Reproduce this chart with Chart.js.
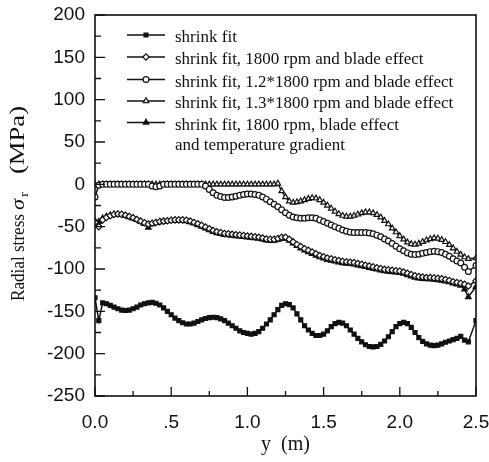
<!DOCTYPE html>
<html>
<head>
<meta charset="utf-8">
<title>Radial stress</title>
<script src="https://cdn.jsdelivr.net/npm/chart.js@4.4.1/dist/chart.umd.min.js"></script>
<style>
  html, body { margin: 0; padding: 0; background: #fff; }
  #wrap { width: 489px; height: 462px; }
</style>
</head>
<body>
<div id="wrap"><canvas id="stressChart" width="489" height="462"></canvas></div>
<script>
// Positions along the shaft, y (m)
const yPositions = [
  0.000, 0.025, 0.050, 0.075, 0.100, 0.125, 0.150, 0.175, 0.200, 0.225,
  0.250, 0.275, 0.300, 0.325, 0.350, 0.375, 0.400, 0.425, 0.450, 0.475,
  0.500, 0.525, 0.550, 0.575, 0.600, 0.625, 0.650, 0.675, 0.700, 0.725,
  0.750, 0.775, 0.800, 0.825, 0.850, 0.875, 0.900, 0.925, 0.950, 0.975,
  1.000, 1.025, 1.050, 1.075, 1.100, 1.125, 1.150, 1.175, 1.200, 1.225,
  1.250, 1.275, 1.300, 1.325, 1.350, 1.375, 1.400, 1.425, 1.450, 1.475,
  1.500, 1.525, 1.550, 1.575, 1.600, 1.625, 1.650, 1.675, 1.700, 1.725,
  1.750, 1.775, 1.800, 1.825, 1.850, 1.875, 1.900, 1.925, 1.950, 1.975,
  2.000, 2.025, 2.050, 2.075, 2.100, 2.125, 2.150, 2.175, 2.200, 2.225,
  2.250, 2.275, 2.300, 2.325, 2.350, 2.375, 2.400, 2.425, 2.450, 2.475,
  2.500
];

// Radial stress (MPa), shrink fit only
const shrinkFit = [
  -134, -161, -140, -141, -143, -145, -147, -148.5, -149, -148.5,
  -147, -145, -142.5, -141, -140, -139.5, -140.5, -142.5, -146, -150,
  -154, -158, -161, -163.5, -165, -165, -164, -162, -160, -158.5,
  -157.5, -157, -157.5, -159, -161, -164, -167, -170, -173, -175,
  -176, -177, -176, -174, -170, -165, -160, -154, -148, -143,
  -141, -142, -146, -153, -160, -167, -172, -176, -178.5, -178.5,
  -177, -173, -168, -164.5, -163, -164, -167, -172, -177, -182,
  -186, -189.5, -191.5, -192, -191.5, -189, -185, -180, -174, -168,
  -164.5, -163, -164.5, -169, -175, -181, -185.5, -188.5, -190, -190.5,
  -190, -188.5, -186.5, -185, -183.5, -182, -179.5, -184, -186, null,
  -161
];

// shrink fit, 1800 rpm and blade effect
const blade1800 = [
  -45, -50, -42, -39, -37, -35.5, -35, -35.5, -36.5, -38,
  -39.5, -41.5, -43.5, -45.5, -47, -46, -45, -44, -43.5, -43,
  -42.5, -42, -42, -42, -42.5, -43.5, -45, -46.5, -48.5, -50.5,
  -52.5, -54.5, -56, -57, -58, -58.5, -59, -59.5, -60, -60.5,
  -61, -61.5, -62, -62.5, -63.5, -64.5, -65, -65, -64, -62.5,
  -62.5, -65, -68, -71, -73.5, -76, -78, -80, -82, -84,
  -85.5, -87, -88, -89, -90, -91, -91.5, -92, -92.5, -93.5,
  -94.5, -95.5, -96.5, -97.5, -98.5, -99.5, -100.5, -101, -101.5, -102,
  -102.5, -103.5, -105, -106.5, -108, -109, -109.5, -110, -110, -110.5,
  -111, -111.5, -112.5, -113.5, -115, -116, -117, -118, -120, null,
  -114
];

// shrink fit, 1.2*1800 rpm and blade effect
const blade2160 = [
  -15, -1, 0, 0, 0, 0, 0, 0, 0, 0,
  0, 0, 0, 0, 0, -2, -3, -2, 0, 0,
  0, 0, 0, 0, 0, 0, 0, 0, 0, -2,
  -6, -10, -13, -14.5, -15.5, -15.5, -15, -14, -13, -12,
  -11.5, -11.5, -12, -13, -15, -17.5, -20.5, -23.5, -26.5, -30,
  -33.5, -36.5, -38.5, -39.5, -40, -40, -39.5, -39.5, -40, -42,
  -44, -46, -48, -50, -52, -54, -55.5, -56.5, -57, -57,
  -57, -57, -57.5, -58.5, -60, -62, -64.5, -67, -70, -73,
  -76, -78.5, -81, -82.5, -83, -82.5, -81.5, -80.5, -79.5, -79,
  -79.5, -80.5, -82.5, -85, -88, -90.5, -93, -98, -103, null,
  -96
];

// shrink fit, 1.3*1800 rpm and blade effect
const blade2340 = [
  0, 0, 0, 0, 0, 0, 0, 0, 0, 0,
  0, 0, 0, 0, 0, 0, 0, 0, 0, 0,
  0, 0, 0, 0, 0, 0, 0, 0, 0, 0,
  0, 0, 0, 0, 0, 0, 0, 0, 0, 0,
  0, 0, 0, 0, 0, 0, 0, 0, 1, -8,
  -15, -20, -21.5, -21, -20, -18.5, -17, -16, -16.5, -18.5,
  -21.5, -25, -28.5, -32, -35, -37, -38, -38, -37, -35.5,
  -34, -33, -33, -34, -36, -39, -43, -47, -52, -56.5,
  -61, -65, -68.5, -70.5, -71, -70, -68, -66, -64.5, -63.5,
  -64, -65.5, -68, -71.5, -75.5, -79.5, -83, -86, -88, null,
  -87
];

// shrink fit, 1800 rpm, blade effect and temperature gradient
const tempGradient = [
  -43, -44, -40, -38, -36.5, -35.5, -35.5, -36, -37, -38.5,
  -40, -42, -44, -46.5, -51, -47, -45.5, -44.5, -44, -43.5,
  -43, -43, -43, -43, -43.5, -44.5, -46, -48, -50, -52,
  -54, -56, -57.5, -58.5, -59.5, -60, -60.5, -61, -61.5, -62,
  -62.5, -63, -63.5, -64, -65, -66, -66.5, -66.5, -65.5, -64,
  -64, -66.5, -69.5, -72.5, -75.5, -78, -80, -82, -84, -86,
  -87.5, -89, -90, -91, -92, -93, -93.5, -94, -94.5, -95.5,
  -96.5, -97.5, -98.5, -99.5, -100.5, -101.5, -102.5, -103, -103.5, -104,
  -104.5, -105.5, -107, -108.5, -110, -111, -111.5, -112, -112, -112.5,
  -113, -113.5, -114.5, -115.5, -117, -118, -119.5, -124, -133, null,
  -121
];

const seriesLabels = [
  ['shrink fit'],
  ['shrink fit, 1800 rpm and blade effect'],
  ['shrink fit, 1.2*1800 rpm and blade effect'],
  ['shrink fit, 1.3*1800 rpm and blade effect'],
  ['shrink fit, 1800 rpm, blade effect', 'and temperature gradient']
];

// Axis ticks
const xTickValues = [0, 0.5, 1.0, 1.5, 2.0, 2.5];
const xTickLabels = ['0.0', '.5', '1.0', '1.5', '2.0', '2.5'];
const xMinorTicks = [0.25, 0.75, 1.25, 1.75, 2.25];
const yTickValues = [-250, -200, -150, -100, -50, 0, 50, 100, 150, 200];
const yMinorTicks = [-225, -175, -125, -75, -25, 25, 75, 125, 175];

const INK = '#111';
const SERIF = '"Liberation Serif", "Times New Roman", serif';
const SANS = '"Liberation Sans", Arial, sans-serif';

// marker look for each series
const markers = [
  { style: 'rect', radius: 2.8, filled: true },
  { style: 'rectRot', radius: 3.2, filled: false },
  { style: 'circle', radius: 2.9, filled: false },
  { style: 'triangle', radius: 3.2, filled: false },
  { style: 'triangle', radius: 3.2, filled: true }
];

const seriesValues = [shrinkFit, blade1800, blade2160, blade2340, tempGradient];

const datasets = seriesValues.map((values, i) => ({
  label: seriesLabels[i].join(' '),
  data: yPositions.map((x, j) => ({ x: x, y: values[j] })),
  borderColor: INK,
  borderWidth: 1.5,
  pointStyle: markers[i].style,
  pointRadius: markers[i].radius,
  pointBackgroundColor: markers[i].filled ? INK : '#fff',
  pointBorderColor: INK,
  pointBorderWidth: 1.2,
  spanGaps: true,
  tension: 0
}));

// keep the plot box where the layout padding puts it
const noLabelPadding = s => {
  s.paddingLeft = 0;
  s.paddingRight = 0;
  s.paddingTop = 0;
  s.paddingBottom = 0;
};

// Frame, inward ticks, legend and axis titles
const overlayPlugin = {
  id: 'overlay',
  afterDraw(chart) {
    const ctx = chart.ctx;
    const area = chart.chartArea;
    const xs = chart.scales.x;
    const ys = chart.scales.y;

    ctx.save();
    ctx.strokeStyle = INK;
    ctx.lineWidth = 1.6;
    ctx.strokeRect(area.left, area.top, area.right - area.left, area.bottom - area.top);

    // ticks pointing into the plot
    ctx.lineWidth = 1.3;
    ctx.beginPath();
    xTickValues.forEach(v => {
      const px = xs.getPixelForValue(v);
      ctx.moveTo(px, area.bottom);
      ctx.lineTo(px, area.bottom - 9);
    });
    xMinorTicks.forEach(v => {
      const px = xs.getPixelForValue(v);
      ctx.moveTo(px, area.bottom);
      ctx.lineTo(px, area.bottom - 5);
    });
    yTickValues.forEach(v => {
      const py = ys.getPixelForValue(v);
      ctx.moveTo(area.left, py);
      ctx.lineTo(area.left + 10, py);
    });
    yMinorTicks.forEach(v => {
      const py = ys.getPixelForValue(v);
      ctx.moveTo(area.left, py);
      ctx.lineTo(area.left + 6, py);
    });
    ctx.stroke();

    // legend
    const rowY = [35, 57, 79.5, 101, 122.5];
    ctx.font = '17px ' + SERIF;
    ctx.textBaseline = 'middle';
    ctx.textAlign = 'left';
    chart.data.datasets.forEach((ds, i) => {
      const y = rowY[i];
      ctx.beginPath();
      ctx.lineWidth = 1.5;
      ctx.strokeStyle = INK;
      ctx.moveTo(127, y);
      ctx.lineTo(165, y);
      ctx.stroke();
      ctx.fillStyle = ds.pointBackgroundColor;
      ctx.lineWidth = 1.2;
      Chart.helpers.drawPoint(ctx, {
        pointStyle: ds.pointStyle,
        radius: ds.pointRadius,
        borderWidth: 1.2,
        rotation: 0
      }, 146, y);
      ctx.fillStyle = INK;
      seriesLabels[i].forEach((line, k) => {
        ctx.fillText(line, 175, y + 3 + k * 20.5);
      });
    });

    // x title
    ctx.font = '20px ' + SERIF;
    ctx.textAlign = 'center';
    ctx.fillText('y  (m)', (area.left + area.right) / 2, 445);

    // y title, rotated, with subscript r
    ctx.translate(24, 0);
    ctx.rotate(-Math.PI / 2);
    ctx.textAlign = 'left';
    ctx.textBaseline = 'alphabetic';
    const drawPiece = (text, font, start, width, dy) => {
      ctx.font = font;
      const w = ctx.measureText(text).width;
      ctx.save();
      ctx.translate(-start, dy);
      ctx.scale(width / w, 1);
      ctx.fillText(text, 0, 0);
      ctx.restore();
    };
    drawPiece('Radial stress', '18px ' + SERIF, 301, 87, 0);
    drawPiece('\u03C3', 'italic 19px ' + SERIF, 210, 11, 0);
    drawPiece('r', '12px ' + SERIF, 197, 5, 4);
    drawPiece('(MPa)', '21px ' + SERIF, 174, 68, 0);
    ctx.restore();
  }
};

new Chart(document.getElementById('stressChart'), {
  type: 'line',
  data: { datasets: datasets },
  options: {
    responsive: false,
    animation: false,
    layout: { padding: { top: 15, right: 13, left: 0, bottom: 0 } },
    plugins: {
      legend: { display: false },
      tooltip: { enabled: false }
    },
    scales: {
      x: {
        type: 'linear',
        min: 0,
        max: 2.5,
        afterFit: s => { s.height = 66; noLabelPadding(s); },
        afterBuildTicks: s => { s.ticks = xTickValues.map(v => ({ value: v })); },
        grid: { display: false, drawTicks: false },
        border: { display: false },
        ticks: {
          padding: 15,
          autoSkip: false,
          maxRotation: 0,
          color: INK,
          font: { family: SANS, size: 19 },
          callback: (v, i) => xTickLabels[i]
        }
      },
      y: {
        type: 'linear',
        min: -250,
        max: 200,
        afterFit: s => { s.width = 95; noLabelPadding(s); },
        afterBuildTicks: s => { s.ticks = yTickValues.map(v => ({ value: v })); },
        grid: { display: false, drawTicks: false },
        border: { display: false },
        ticks: {
          padding: 10,
          autoSkip: false,
          color: INK,
          font: { family: SANS, size: 19 },
          callback: v => String(v)
        }
      }
    }
  },
  plugins: [overlayPlugin]
});
</script>
</body>
</html>
